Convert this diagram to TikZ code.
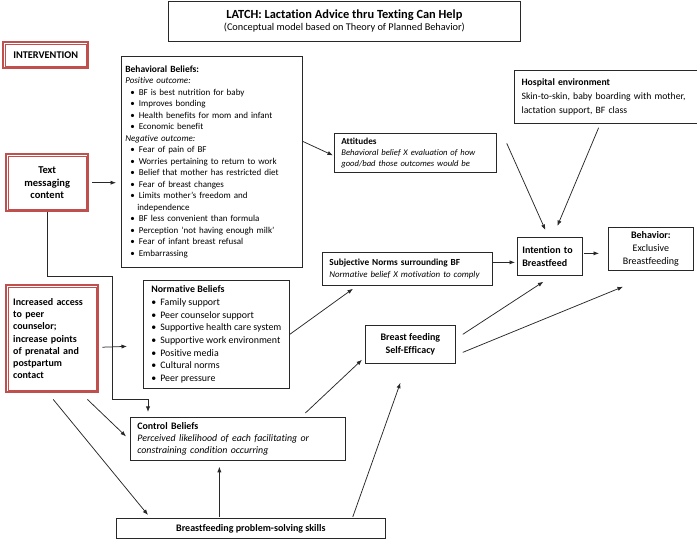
\documentclass[tikz,border=0pt]{standalone}
\usepackage{fontspec}
\setmainfont{Carlito}[Ligatures=NoCommon]
\usetikzlibrary{arrows.meta,calc}
\definecolor{latchred}{RGB}{192,80,77}
\definecolor{boxline}{RGB}{40,40,40}
\newcommand{\bul}[1][0pt]{\hspace*{#1}\textbullet\hspace{4pt}}
\tikzset{
  box/.style={draw=boxline,line width=.75pt,anchor=north west,inner xsep=7pt,inner ysep=3pt,align=left},
  redbox/.style={draw=latchred,line width=2.4pt,anchor=north west,inner sep=4pt,font=\bfseries\fontsize{10}{12.2}\selectfont},
  redinner/.style={draw=latchred,line width=.6pt},
  arr/.style={-{Latex[length=5.5pt,width=4.2pt]},line width=.75pt,draw=boxline}
}

\begin{document}
\begin{tikzpicture}[x=1pt,y=-1pt]
\useasboundingbox (0,0) rectangle (697,540);

% title
\node[box,minimum width=352pt,minimum height=40pt,align=center] (title) at (168,1)
  {{\bfseries\fontsize{12.4}{13}\selectfont LATCH: Lactation Advice thru Texting Can Help}\\
   {\fontsize{10.3}{12.5}\selectfont (Conceptual model based on Theory of Planned Behavior)}};

% intervention column
\node[redbox,minimum width=85pt,minimum height=26pt,font=\bfseries\fontsize{10.3}{12}\selectfont] (intv) at (2,41) {INTERVENTION};
\node[redbox,minimum width=82pt,minimum height=57pt,align=center,font=\bfseries\fontsize{10.5}{12.2}\selectfont] (txt) at (5,153)
  {Text\\messaging\\content};
\node[redbox,minimum width=92pt,minimum height=107pt,align=left,text width=78pt,inner xsep=7pt] (inc) at (5,284)
  {Increased access\\to peer\\counselor;\\increase points\\of prenatal and\\postpartum\\contact};
\foreach \n in {intv,txt,inc}
  \draw[redinner] ($(\n.north west)+(2.9,2.9)$) rectangle ($(\n.south east)+(-2.9,-2.9)$);

% beliefs
\node[box,minimum width=181pt,minimum height=211pt,text width=173pt,inner xsep=4pt,
  font=\fontsize{9}{11.5}\selectfont] (bb) at (121,56)
  {\textbf{\fontsize{9.5}{11.5}\selectfont Behavioral Beliefs:}\\
   \textit{Positive outcome:}\\
   \bul[5pt]BF is best nutrition for baby\\
   \bul[5pt]Improves bonding\\
   \bul[5pt]Health benefits for mom and infant\\
   \bul[5pt]Economic benefit\\
   \textit{Negative outcome:}\\
   \bul[5pt]Fear of pain of BF\\
   \bul[5pt]Worries pertaining to return to work\\
   \bul[5pt]Belief that mother has restricted diet\\
   \bul[5pt]Fear of breast changes\\
   \bul[5pt]Limits mother’s freedom and\\
   \hspace*{12pt}independence\\
   \bul[5pt]BF less convenient than formula\\
   \bul[5pt]Perception ‘not having enough milk’\\
   \bul[5pt]Fear of infant breast refusal\\
   \bul[5pt]Embarrassing};

\node[box,minimum width=146pt,minimum height=108pt,inner xsep=4pt,
  font=\fontsize{9.9}{12.7}\selectfont] (nb) at (143,280)
  {\textbf{Normative Beliefs}\\
   \bul Family support\\
   \bul Peer counselor support\\
   \bul Supportive health care system\\
   \bul Supportive work environment\\
   \bul Positive media\\
   \bul Cultural norms\\
   \bul Peer pressure};

\node[box,minimum width=215pt,minimum height=43pt,text width=201pt,
  font=\fontsize{9.9}{12}\selectfont] (cb) at (130,417)
  {\textbf{Control Beliefs}\\
   \textit{Perceived likelihood of each facilitating or}\\
   \textit{constraining condition occurring}};

\node[box,minimum width=269pt,minimum height=20pt,align=center,
  font=\bfseries\fontsize{10}{11}\selectfont] (ps) at (116,518)
  {Breastfeeding problem-solving skills};

% constructs
\node[box,minimum width=162pt,minimum height=39pt,text width=148pt,
  font=\fontsize{8.6}{11}\selectfont] (att) at (334,133)
  {\textbf{\fontsize{9.2}{11}\selectfont Attitudes}\\
   \textit{Behavioral belief X evaluation of how}\\
   \textit{good/bad those outcomes would be}};

\node[box,minimum width=170pt,minimum height=33pt,text width=156pt,
  font=\fontsize{8.9}{11.5}\selectfont] (sn) at (322,252)
  {\textbf{\fontsize{9.3}{11.5}\selectfont Subjective Norms surrounding BF}\\
   \textit{Normative belief X motivation to comply}};

\node[box,minimum width=90pt,minimum height=38pt,align=center,
  font=\bfseries\fontsize{10}{12.5}\selectfont] (se) at (365,325)
  {Breast feeding\\Self-Efficacy};

\node[box,minimum width=182.5pt,minimum height=53pt,text width=168pt,
  font=\fontsize{9.7}{14}\selectfont] (hosp) at (514,70)
  {\textbf{Hospital environment}\\
   Skin-to-skin, baby boarding with mother,\\
   lactation support, BF class};

\node[box,minimum width=65pt,minimum height=38pt,text width=55pt,inner xsep=5pt,
  font=\bfseries\fontsize{10}{13.5}\selectfont] (int) at (517,237)
  {Intention to\\Breastfeed};

\node[box,minimum width=85pt,minimum height=43pt,align=center,
  font=\fontsize{10}{13}\selectfont] (beh) at (608,227)
  {\textbf{Behavior:}\\Exclusive\\Breastfeeding};

% connectors
\coordinate (bendA) at (112,276);
\coordinate (bendB) at (148,399);

\draw[arr,shorten <=3pt,shorten >=5pt] (txt.east) -- (bb.west |- txt.east);
\draw[arr,shorten >=5pt] (txt.south) |- (bendA) |- (bendB) -- (bendB |- cb.north);
\draw[arr] ($(inc.east)+(3,8.5)$) -- ($(nb.west)+(-16,12)$);
\draw[arr] ($(inc.south east)+(-12,6)$) -- ($(cb.west)+(-4,-2.5)$);
\draw[arr] ($(inc.south)+(1,6)$) -- ($(ps.north west)+(32,-3)$);

\draw[arr] ($(bb.east)+(0,-20.5)$) -- ($(att.west)+(-1,2.5)$);
\draw[arr] (nb.east) -- ($(sn.south west)+(31,3)$);
\draw[arr] ($(cb.north)+(67.5,-4)$) -- ($(se.south west)+(-3,-4)$);
\draw[arr] ($(ps.north)+(-31.5,-1)$) -- ($(cb.south)+(-18.5,6)$);
\draw[arr] ($(ps.north east)+(-33,-1)$) -- ($(se.south)+(-10,19)$);

\draw[arr] ($(att.east)+(10,-9.5)$) -- ($(int.north)+(-4.5,-7)$);
\draw[arr] ($(hosp.south)+(-7,4)$) -- ($(int.north)+(7.5,-11)$);
\draw[arr,shorten >=2pt] ($(sn.east)+(0,-6.5)$) -- ($(int.west)+(0,6)$);
\draw[arr] ($(se.east)+(7,-10)$) -- ($(int.south)+(-6.5,6)$);
\draw[arr] ($(se.east)+(7,8)$) -- ($(beh.south west)+(15,16)$);
\draw[arr,shorten >=9pt] ($(int.east)+(1,-3)$) -- ($(beh.west)+(0,4.5)$);

\end{tikzpicture}
\end{document}
